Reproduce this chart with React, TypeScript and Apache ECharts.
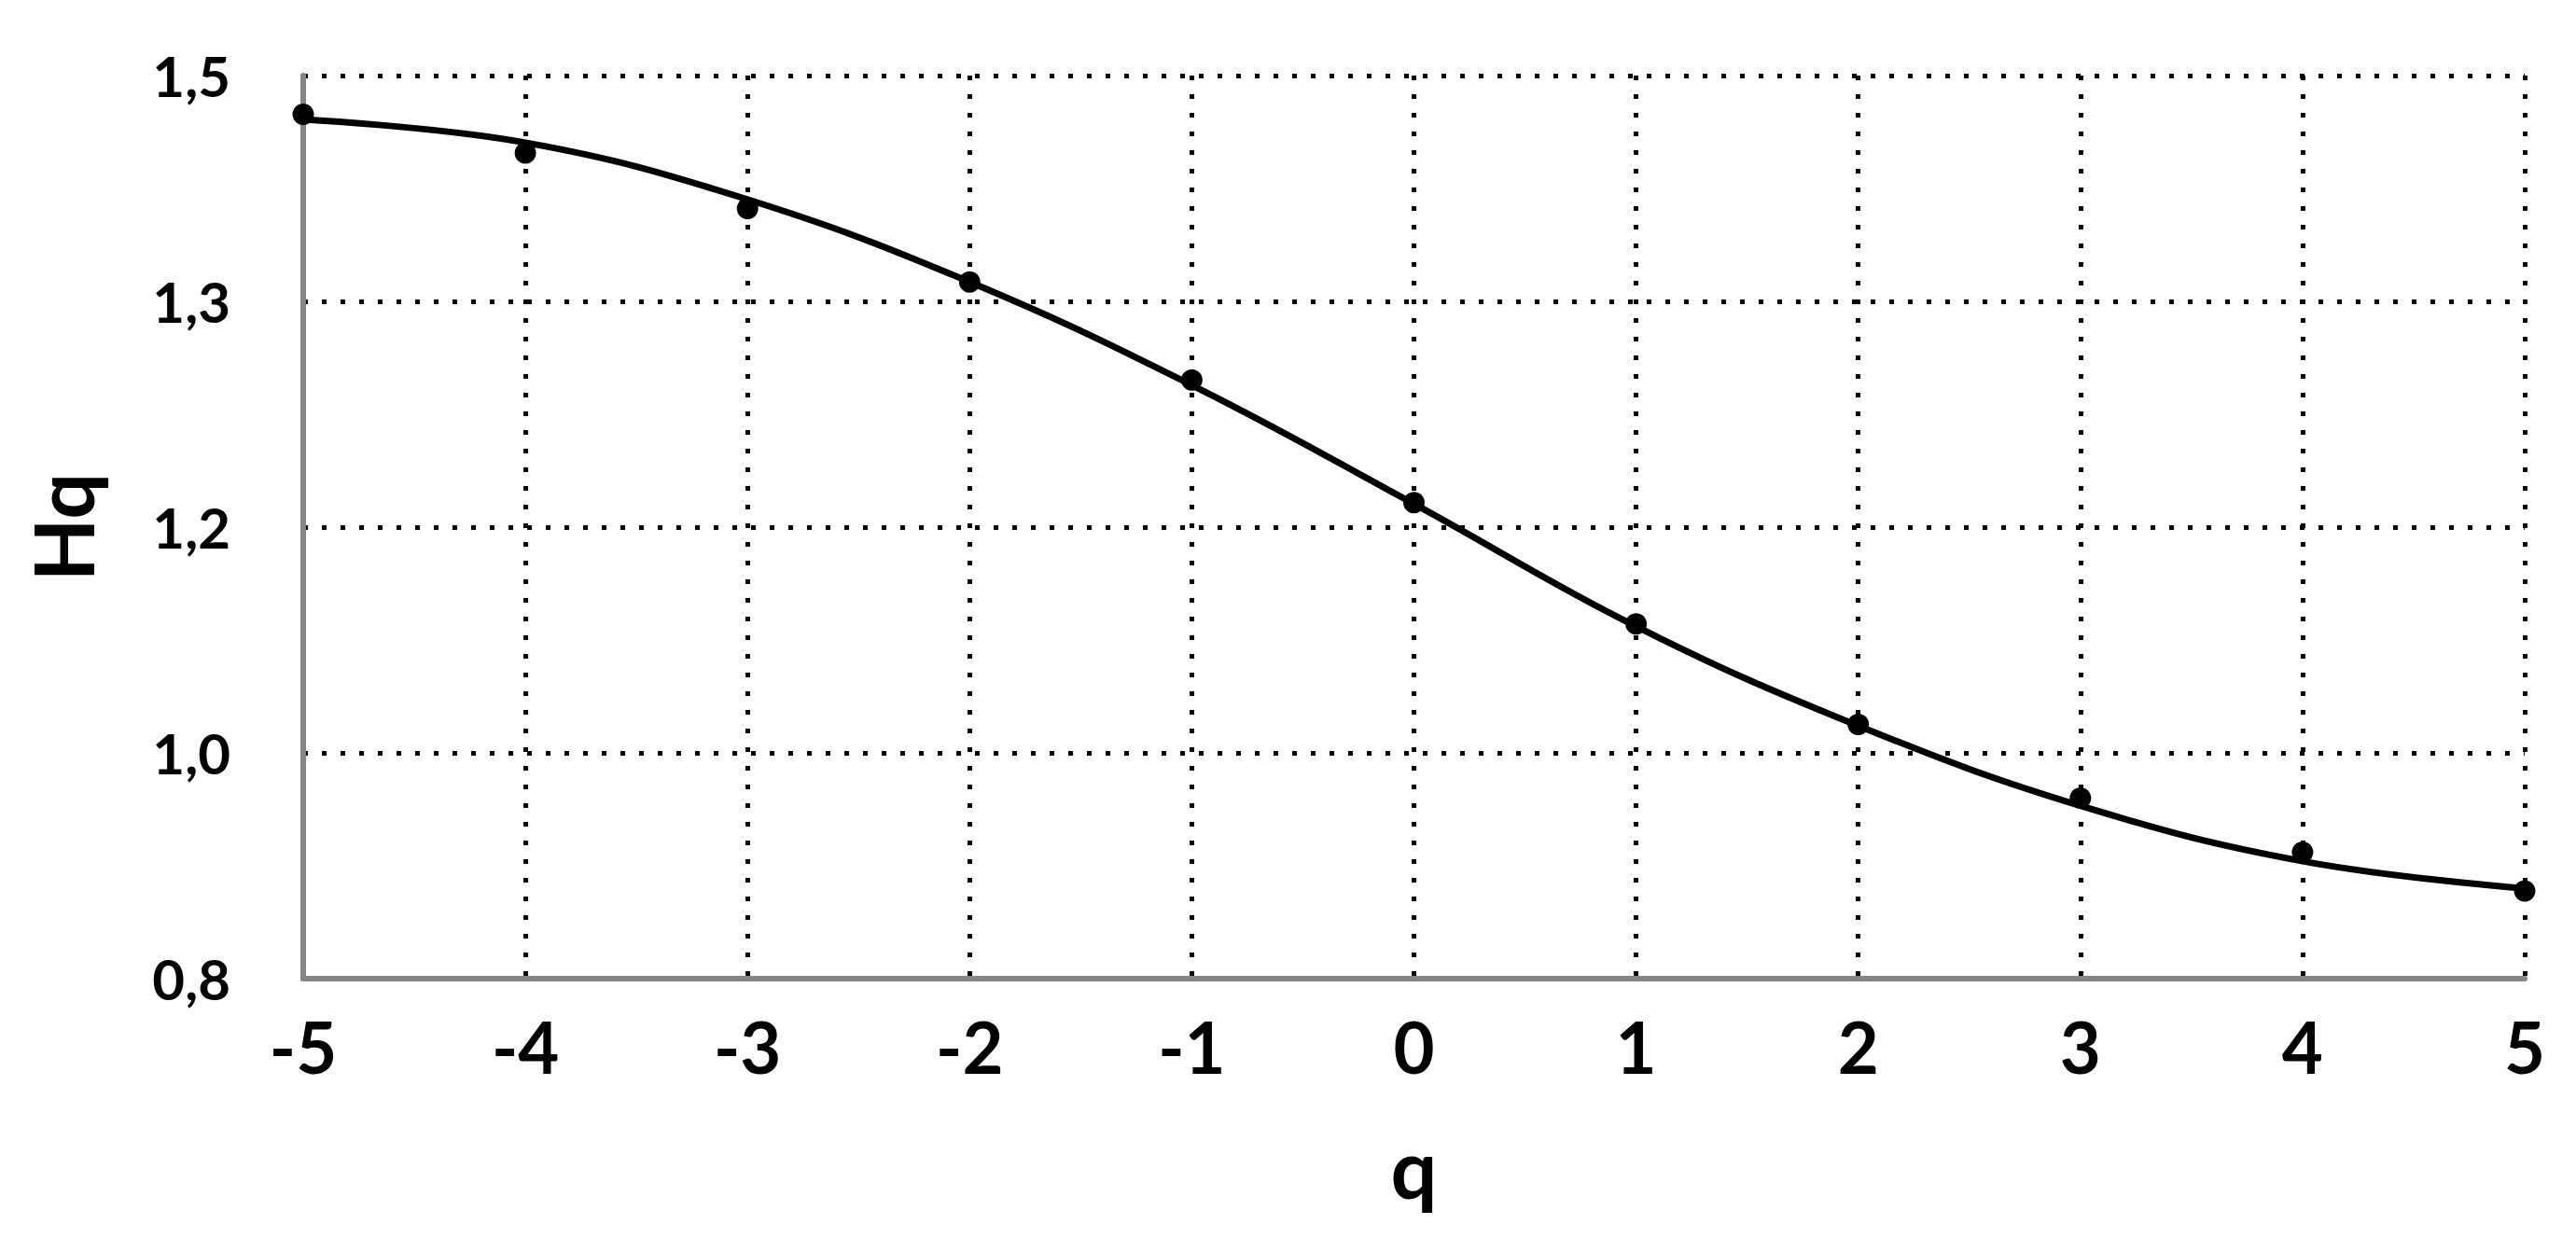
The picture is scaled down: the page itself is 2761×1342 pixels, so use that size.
import React, { useEffect, useRef } from "react";
import * as echarts from "echarts";

// Measured points (q, Hq)
const pointQ = [-5, -4, -3, -2, -1, 0, 1, 2, 3, 4, 5];
const pointHq = [1.47, 1.44, 1.397, 1.34, 1.264, 1.169, 1.075, 0.997, 0.94, 0.898, 0.868];

// Fitted curve
const curveQ = [-5, -4, -3, -2, -1, 0, 1, 2, 3, 4, 5];
const curveHq = [1.466, 1.448, 1.404, 1.34, 1.26, 1.168, 1.073, 0.996, 0.934, 0.891, 0.87];

// Tick labels as printed
const yTickLabels = ["0,8", "1,0", "1,2", "1,3", "1,5"];
const yMin = 0.8;
const yMax = 1.5;
const xMin = -5;
const xMax = 5;

const FONT = "Lato";

export default function App() {
  const ref = useRef<HTMLDivElement>(null);
  useEffect(() => {
    if (!ref.current) return;
    const chart = echarts.init(ref.current, undefined, { renderer: "svg" });
    const gridLine = { show: true, lineStyle: { color: "#000", width: 5, type: [5, 15] as any } };
    chart.setOption({
      animation: false,
      backgroundColor: "#fff",
      grid: { left: 325, right: 55, top: 81, bottom: 293, containLabel: false },
      xAxis: {
        type: "value",
        min: xMin,
        max: xMax,
        interval: 1,
        name: "q",
        nameLocation: "middle",
        nameGap: 158,
        nameTextStyle: { fontFamily: FONT, fontWeight: "bold", fontSize: 88, color: "#000" },
        axisLine: { show: true, onZero: false, lineStyle: { color: "#858585", width: 6 } },
        axisTick: { show: false },
        axisLabel: {
          fontFamily: FONT,
          fontWeight: "bold",
          fontSize: 76,
          color: "#000",
          margin: 34,
          formatter: (v: number) => String(v),
        },
        splitLine: gridLine,
      },
      yAxis: [
        {
          type: "value",
          min: 0,
          max: yTickLabels.length - 1,
          interval: 1,
          name: "Hq",
          nameLocation: "middle",
          nameRotate: 90,
          nameGap: 214,
          nameTextStyle: { fontFamily: FONT, fontWeight: "bold", fontSize: 88, color: "#000" },
          axisLine: { show: true, onZero: false, lineStyle: { color: "#858585", width: 6 } },
          axisTick: { show: false },
          axisLabel: {
            fontFamily: FONT,
            fontWeight: "bold",
            fontSize: 60,
            color: "#000",
            margin: 78,
            formatter: (v: number) => yTickLabels[Math.round(v)] ?? "",
          },
          splitLine: gridLine,
        },
        {
          type: "value",
          min: yMin,
          max: yMax,
          show: false,
          axisLine: { onZero: false },
          splitLine: { show: false },
        },
      ],
      series: [
        {
          type: "line",
          yAxisIndex: 1,
          data: curveQ.map((q, i) => [q, curveHq[i]]),
          smooth: 0.4,
          showSymbol: false,
          lineStyle: { color: "#000", width: 7 },
          z: 3,
        },
        {
          type: "scatter",
          yAxisIndex: 1,
          data: pointQ.map((q, i) => [q, pointHq[i]]),
          symbol: "circle",
          symbolSize: 23,
          itemStyle: { color: "#000", opacity: 1 },
          clip: false,
          z: 4,
        },
      ],
    });
    return () => chart.dispose();
  }, []);
  return (
    <div
      ref={ref}
      style={{ position: "fixed", left: 0, top: 0, width: 2761, height: 1342, background: "#fff" }}
    />
  );
}
